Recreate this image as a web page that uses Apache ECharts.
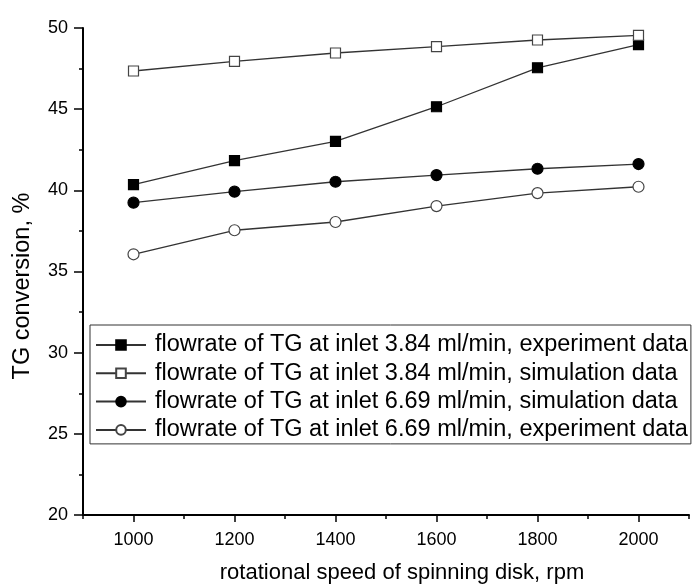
<!DOCTYPE html>
<html>
<head>
<meta charset="utf-8">
<script src="https://cdn.jsdelivr.net/npm/echarts@6/dist/echarts.min.js"></script>
<style>
	html, body { margin: 0; padding: 0; background: #fff; }
	#chart1 { width: 692px; height: 587px; }
</style>
</head>
<body>
<div id="chart1"></div>
<script>
// 数据
var speeds = [1000, 1200, 1400, 1600, 1800, 2000];
var exp384 = [40.35, 41.83, 43.02, 45.15, 47.55, 48.97];
var sim384 = [47.35, 47.95, 48.46, 48.85, 49.26, 49.55];
var sim669 = [39.24, 39.92, 40.53, 40.94, 41.33, 41.62];
var exp669 = [36.06, 37.54, 38.05, 39.03, 39.83, 40.22];
var seriesNames = [
	'flowrate of TG at inlet 3.84 ml/min, experiment data',
	'flowrate of TG at inlet 3.84 ml/min, simulation data',
	'flowrate of TG at inlet 6.69 ml/min, simulation data',
	'flowrate of TG at inlet 6.69 ml/min, experiment data'
];
var majorTicks = [1000, 1200, 1400, 1600, 1800, 2000];

function pairs(ys) {
	return speeds.map(function(x, i) { return [x, ys[i]]; });
}

var font = 'Liberation Sans, Arial, sans-serif';
var myChart1 = echarts.init(document.getElementById('chart1'));

function line(name, ys, symbol, size, filled) {
	return {
		name: name,
		type: 'line',
		data: pairs(ys),
		symbol: symbol,
		symbolSize: size,
		showSymbol: true,
		lineStyle: { color: '#333', width: 1.3 },
		itemStyle: {
			color: filled ? '#000' : '#fff',
			borderColor: filled ? '#000' : '#444',
			borderWidth: 1.2
		},
		emphasis: { disabled: true }
	};
}

var option1 = {
	backgroundColor: '#fff',
	animation: false,
	textStyle: { fontFamily: font },
	grid: { left: 83, right: 3, top: 28, bottom: 72, outerBoundsMode: 'none' },
	legend: {
		orient: 'vertical',
		left: 90,
		top: 325,
		padding: [6, 3, 0, 5],
		itemWidth: 50,
		itemHeight: 12,
		itemGap: 0.3,
		borderColor: '#333',
		borderWidth: 1,
		textStyle: { fontSize: 23.5, color: '#000', lineHeight: 28, padding: [0, 0, 0, 4], fontFamily: font },
		data: seriesNames
	},
	xAxis: [{
		type: 'value',
		min: 900,
		max: 2100,
		interval: 100,
		name: 'rotational speed of spinning disk, rpm',
		nameLocation: 'middle',
		nameGap: 47,
		nameTextStyle: { fontSize: 22, color: '#000', padding: [0, 0, 0, 32] },
		axisLine: { lineStyle: { color: '#000', width: 2 } },
		axisTick: { inside: false, length: 4, lineStyle: { color: '#000', width: 1.5 } },
		axisLabel: {
			margin: 16,
			fontSize: 18,
			color: '#000',
			formatter: function(v) { return v % 200 === 0 ? String(v) : ''; }
		},
		splitLine: { show: false }
	}, {
		//长刻度
		type: 'value',
		position: 'bottom',
		min: 900,
		max: 2100,
		axisLine: { show: false },
		axisTick: { show: true, length: 7, customValues: majorTicks, lineStyle: { color: '#000', width: 1.5 } },
		axisLabel: { show: false },
		splitLine: { show: false }
	}],
	yAxis: {
		type: 'value',
		min: 20,
		max: 50,
		interval: 5,
		name: 'TG conversion, %',
		nameLocation: 'middle',
		nameGap: 48,
		nameTextStyle: { fontSize: 23.5, color: '#000', padding: [0, 29, 0, 0] },
		axisLine: { show: true, lineStyle: { color: '#000', width: 2 } },
		axisTick: { show: true, length: 9, lineStyle: { color: '#000', width: 1.5 } },
		minorTick: { show: true, splitNumber: 2, length: 4, lineStyle: { color: '#000', width: 1.5 } },
		axisLabel: { margin: 15, fontSize: 18, color: '#000' },
		splitLine: { show: false }
	},
	series: [
		line(seriesNames[0], exp384, 'rect', 10, true),
		line(seriesNames[1], sim384, 'rect', 10, false),
		line(seriesNames[2], sim669, 'circle', 11, true),
		line(seriesNames[3], exp669, 'circle', 11, false)
	]
};
myChart1.setOption(option1);
</script>
</body>
</html>
